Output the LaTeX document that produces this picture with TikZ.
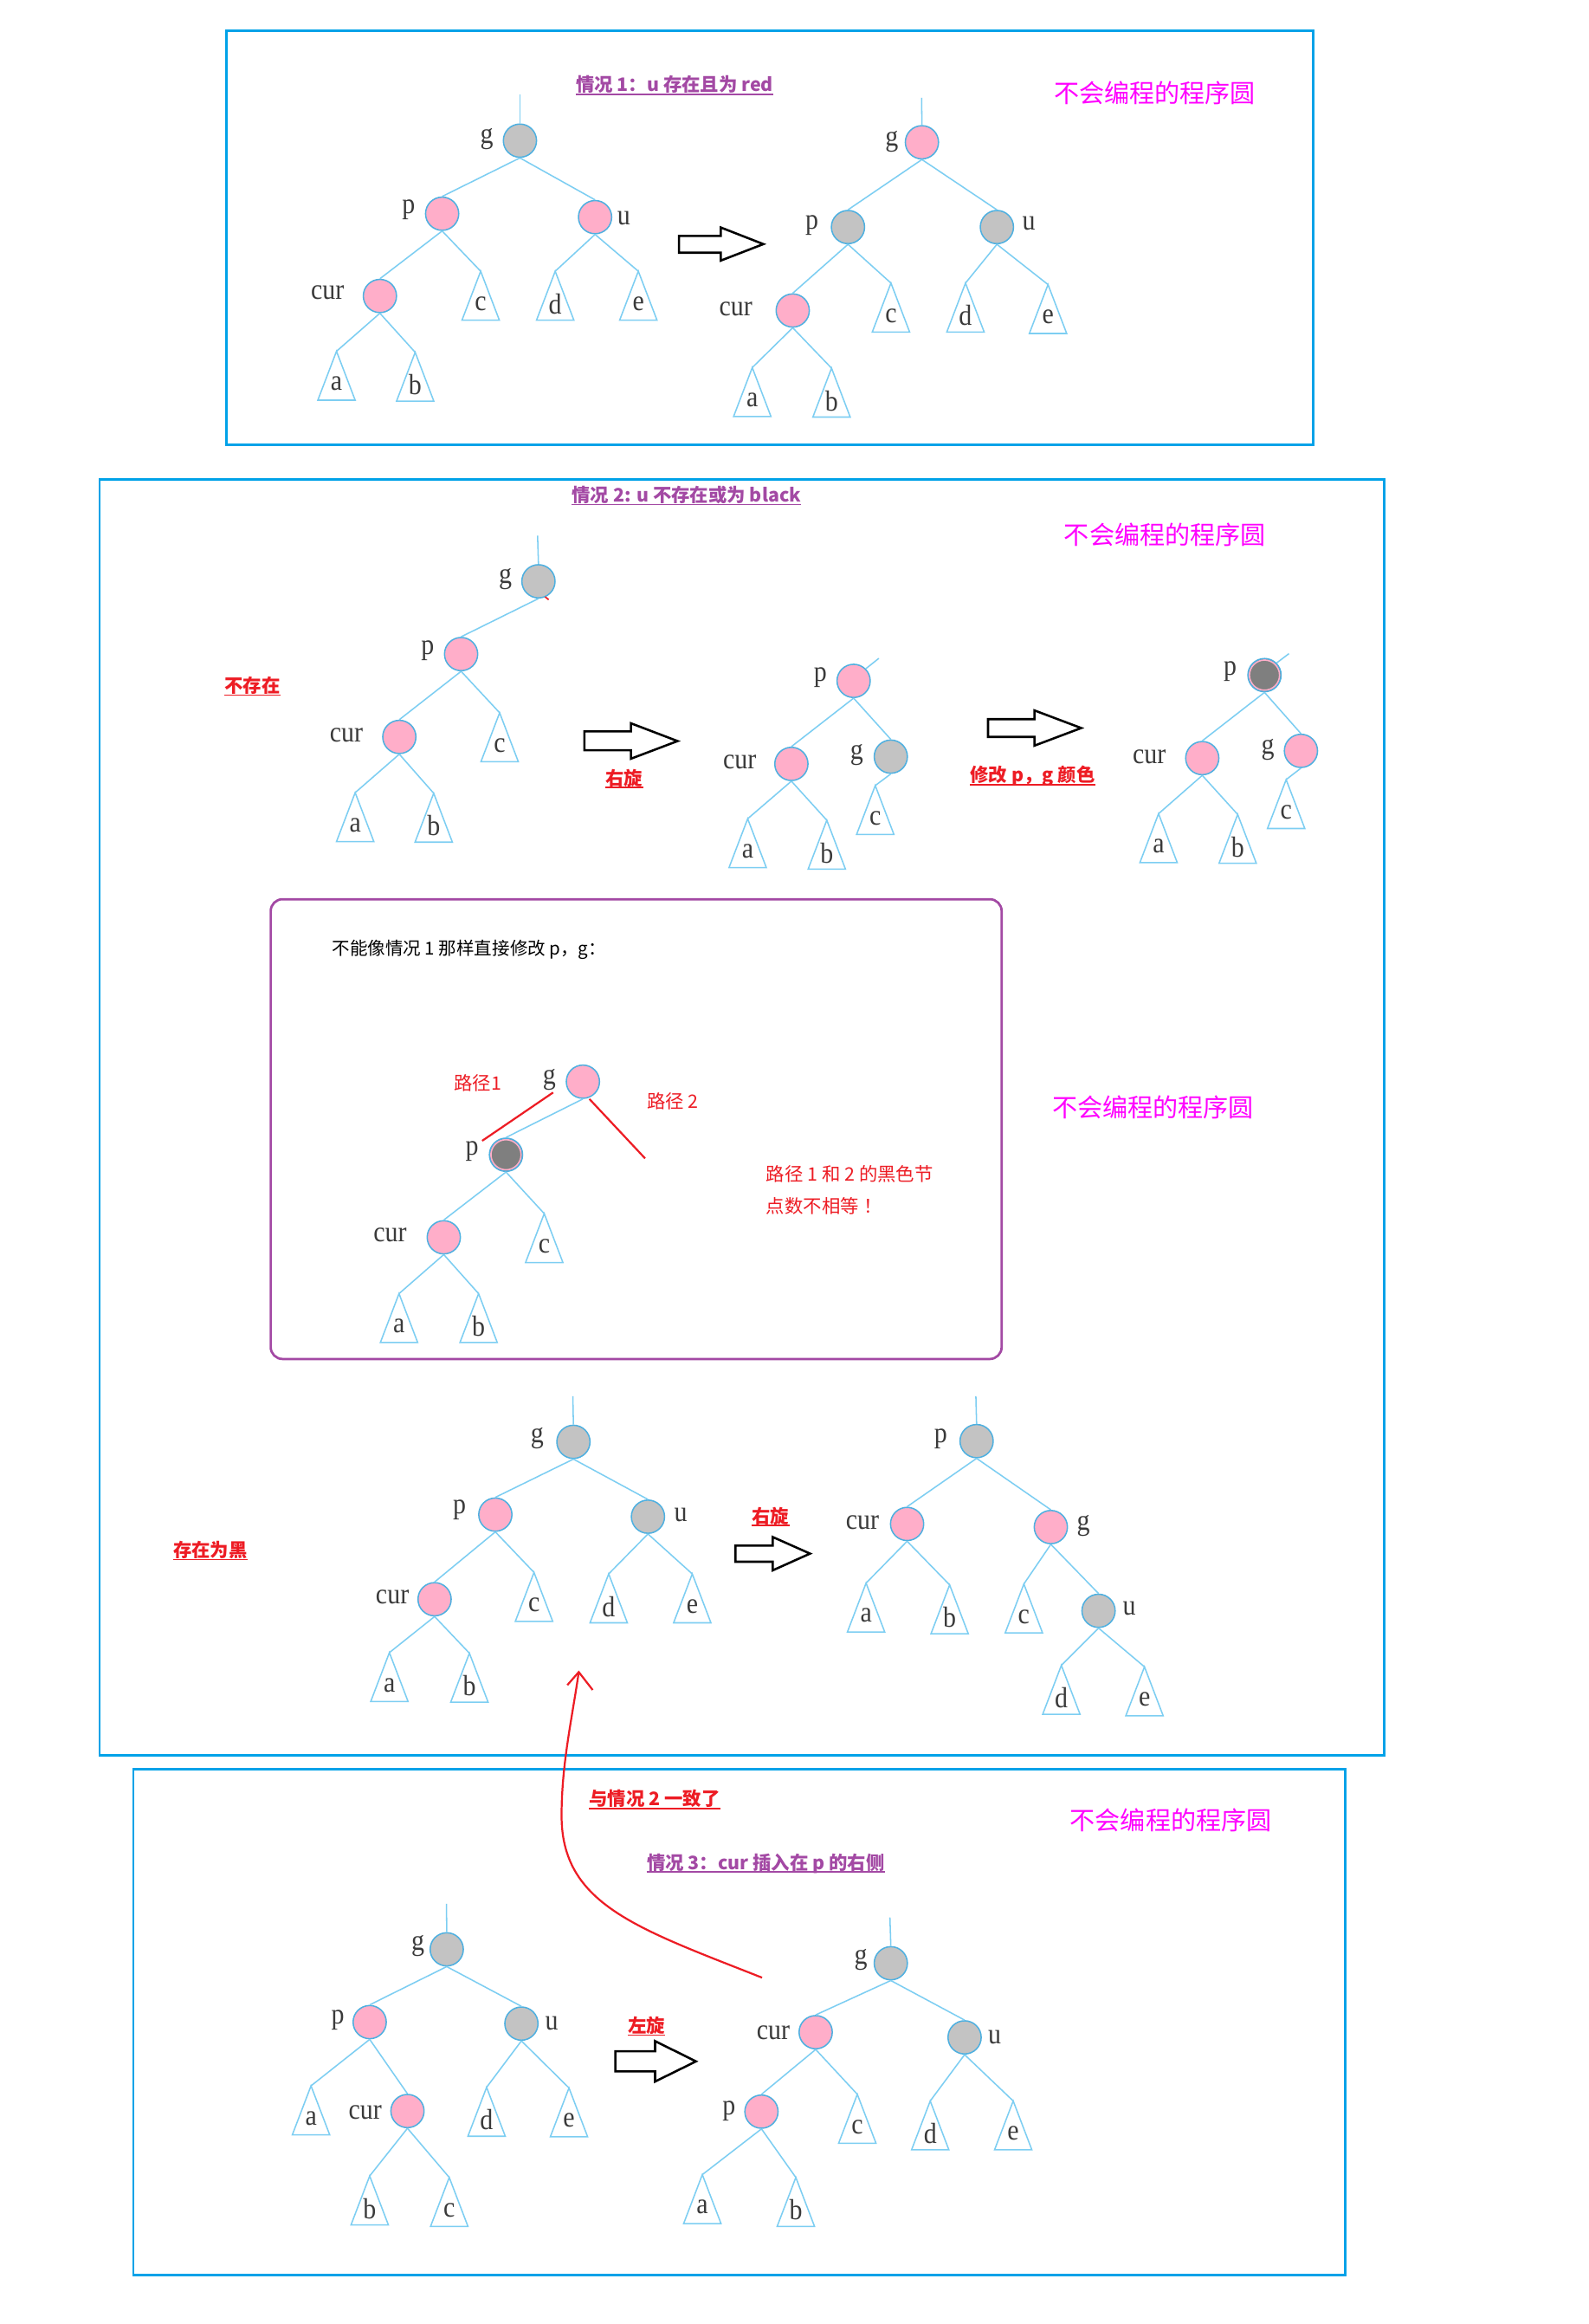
\documentclass[tikz,border=0pt]{standalone}
\usepackage{fontspec}
\usepackage{graphicx}
\setmainfont{Liberation Serif}
\newfontfamily\cjk{Noto Sans CJK SC}
\usetikzlibrary{calc}
\definecolor{boxblue}{HTML}{00A2E8}
\definecolor{boxpurple}{HTML}{A349A4}
\definecolor{nodepink}{HTML}{FFAEC9}
\definecolor{nodegray}{HTML}{C3C3C3}
\definecolor{nodedark}{HTML}{7F7F7F}
\definecolor{nodeborder}{HTML}{4FB0E0}
\definecolor{edgeblue}{HTML}{7DCEF2}
\definecolor{lblgray}{HTML}{3A3A3A}
\definecolor{wmmag}{HTML}{FF00FF}
\definecolor{notered}{HTML}{ED1C24}

\newcommand{\trlab}[1]{\scalebox{1}[1.12]{#1}}
\newcommand{\tnode}[7]{%
  \node[#2] (#1) at (#3,#4) {};
  \node[lbl] (#1-l) at (#5,#6) {\trlab{#7}};
}
\newcommand{\subtri}[4]{%
  \coordinate (#1) at (#2,#3);
  \draw[trishape] (#1) -- ++(-12.6,33) -- ++(25.2,0) -- cycle;
  \node[lbl] (#1-l) at ($(#1)+(0,22)$) {\trlab{#4}};
}
\newcommand{\ulabel}[5]{%
  \node[ultext, text=#2] (#1) at (#3,#4+4.6) {#5};
  \draw[#2, line width=0.9pt] ($(#1.base west)+(0,1.7)$) -- ($(#1.base east)+(0,1.7)$);
}
\newcommand{\blockarrow}[8]{%
  \draw[bigarrow] (#1,#3) -- (#2,#3) -- (#2,#5) -- (#7,#8) -- (#2,#6) -- (#2,#4) -- (#1,#4) -- cycle;
}

\begin{document}
\begin{tikzpicture}[x=1pt,y=-1pt,
  rbnode/.style={circle, minimum size=22.4pt, inner sep=0pt, draw=nodeborder, line width=0.9pt},
  pinknode/.style={rbnode, fill=nodepink},
  graynode/.style={rbnode, fill=nodegray},
  darknode/.style={rbnode, fill=nodedark, path picture={\draw[nodepink, line width=1pt] (path picture bounding box.center) circle (10.2pt);}},
  treeedge/.style={draw=edgeblue, line width=0.9pt},
  trishape/.style={draw=edgeblue, line width=0.9pt, line join=miter},
  lbl/.style={inner sep=0pt, text=lblgray, font=\fontsize{17.5}{17.5}\selectfont},
  panel/.style={draw=boxblue, line width=1.7pt},
  wm/.style={inner sep=0pt, anchor=west, text=wmmag, font=\cjk\fontsize{17}{17}\selectfont},
  ultext/.style={inner sep=0pt, anchor=base west, font=\cjk\bfseries\fontsize{12.5}{12.5}\selectfont},
  bigarrow/.style={draw=black, fill=white, line width=1.5pt, line join=miter},
  redline/.style={draw=notered, line width=1.3pt},
  redtxt/.style={inner sep=0pt, anchor=west, text=notered, font=\cjk\fontsize{12.5}{12.5}\selectfont},
  blktxt/.style={inner sep=0pt, anchor=west, text=black, font=\cjk\fontsize{12}{12}\selectfont},
]
\fill[white] (0,0) rectangle (1072,1568);
\useasboundingbox (0,0) rectangle (1072,1568);

% ---------------- panels ----------------
\draw[panel] (153,20.5) rectangle (886,300);
\draw[panel] (67.2,323.4) rectangle (934,1184.2);
\draw[panel] (90,1193.8) rectangle (907.8,1535);
\draw[boxpurple, line width=1.6pt, rounded corners=8pt] (182.7,606.7) rectangle (676,916.9);

% ---------------- watermarks ----------------
\node[wm] (w1) at (711.2,62.7) {不会编程的程序圆};
\node[wm] (w2) at (718,361) {不会编程的程序圆};
\node[wm] (w3) at (710,747) {不会编程的程序圆};
\node[wm] (w4) at (722,1228) {不会编程的程序圆};

% ---------------- titles / notes ----------------
\ulabel{t1}{boxpurple}{388.5}{57.3}{情况 1：u 存在且为 red}
\ulabel{t2}{boxpurple}{385.8}{334.2}{情况 2: u 不存在或为 black}
\ulabel{t3}{boxpurple}{436.4}{1256.7}{情况 3：cur 插入在 p 的右侧}
\ulabel{r1}{notered}{151.4}{462.8}{不存在}
\ulabel{r2}{notered}{408.6}{525}{右旋}
\ulabel{r3}{notered}{654.6}{523.1}{修改 p，g 颜色}
\ulabel{r4}{notered}{116.8}{1045.9}{存在为黑}
\ulabel{r5}{notered}{507.4}{1022.9}{右旋}
\ulabel{r6}{notered}{397.5}{1213.9}{与情况 2 一致了}
\ulabel{r7}{notered}{423.7}{1366.8}{左旋}

\node[blktxt] (bt) at (224,640.6) {不能像情况 1 那样直接修改 p，g：};
\node[redtxt] (rt1) at (306.2,731) {路径1};
\node[redtxt] (rt2) at (436.4,742.9) {路径 2};
\node[redtxt] (rt3) at (517,792) {路径 1 和 2 的黑色节};
\node[redtxt] (rt4) at (517,814) {点数不相等\hspace{3pt}！};

% ---------------- block arrows ----------------
\blockarrow{458.3}{486.5}{159.2}{170.5}{153.5}{175.8}{515.2}{164.7}
\blockarrow{394.4}{425.8}{493.5}{506.2}{488}{511.9}{457.3}{500}
\blockarrow{666.8}{698.1}{485.2}{497.2}{479.3}{503.1}{729.7}{491.2}
\blockarrow{496.3}{521.5}{1042.8}{1053.7}{1037}{1059.5}{546.7}{1048.2}
\blockarrow{415.3}{442.1}{1384}{1397.6}{1377.1}{1404.4}{469.7}{1390.8}

% ================= Tree A (case 1, before) =================
\tnode{Ag}{graynode}{350.9}{94.9}{328.5}{93.6}{g}
\tnode{Ap}{pinknode}{298.4}{144.2}{275.7}{141.3}{p}
\tnode{Au}{pinknode}{401.6}{146.5}{421}{147}{u}
\tnode{Acur}{pinknode}{256.4}{199.7}{221}{197.6}{cur}
\subtri{Ac}{324.4}{183}{c}
\subtri{Ad}{374.7}{183}{d}
\subtri{Ae}{430.8}{183}{e}
\subtri{Aa}{227.1}{237}{a}
\subtri{Ab}{280.2}{237.7}{b}
\coordinate (Ar) at (350.9,63.8);
\draw[treeedge] (Ag.north) -- (Ar);
\foreach \s/\t in {Ag/Ap, Ag/Au, Ap/Acur} \draw[treeedge] (\s.south) -- (\t.north);
\foreach \s/\t in {Ap/Ac, Au/Ad, Au/Ae, Acur/Aa, Acur/Ab} \draw[treeedge] (\s.south) -- (\t);

% ================= Tree B (case 1, after) =================
\tnode{Bg}{pinknode}{622.2}{96}{601.8}{95.5}{g}
\tnode{Bp}{graynode}{572.3}{153.2}{548}{152}{p}
\tnode{Bu}{graynode}{672.8}{153.2}{694.4}{150.6}{u}
\tnode{Bcur}{pinknode}{535}{209.5}{496.6}{208.5}{cur}
\subtri{Bc}{601.3}{191}{c}
\subtri{Bd}{651.6}{191}{d}
\subtri{Be}{707.3}{192}{e}
\subtri{Ba}{507.7}{248}{a}
\subtri{Bb}{561.2}{248.4}{b}
\coordinate (Br) at (622,66);
\draw[treeedge] (Bg.north) -- (Br);
\foreach \s/\t in {Bg/Bp, Bg/Bu, Bp/Bcur} \draw[treeedge] (\s.south) -- (\t.north);
\foreach \s/\t in {Bp/Bc, Bu/Bd, Bu/Be, Bcur/Ba, Bcur/Bb} \draw[treeedge] (\s.south) -- (\t);

% ================= Tree C (u absent, before) =================
\tnode{Cg}{graynode}{363.4}{392.2}{341}{390.6}{g}
\tnode{Cp}{pinknode}{311.2}{441.3}{288.6}{438.8}{p}
\tnode{Ccur}{pinknode}{269.5}{497.2}{233.7}{495.9}{cur}
\subtri{Cc}{337.2}{480.9}{c}
\subtri{Ca}{239.7}{534.8}{a}
\subtri{Cb}{292.7}{535.2}{b}
\coordinate (Cr) at (362.8,361.4);
\draw[treeedge] (Cg.north) -- (Cr);
\foreach \s/\t in {Cg/Cp, Cp/Ccur} \draw[treeedge] (\s.south) -- (\t.north);
\foreach \s/\t in {Cp/Cc, Ccur/Ca, Ccur/Cb} \draw[treeedge] (\s.south) -- (\t);
\coordinate (Cm1) at (367.9,402.7);
\coordinate (Cm2) at (370.3,404.6);
\draw[notered, line width=1pt] (Cm1) -- (Cm2);

% ================= Tree D (after right rotation) =================
\tnode{Dp}{pinknode}{576.1}{459.4}{553.7}{456.9}{p}
\tnode{Dcur}{pinknode}{534.1}{515.4}{499.2}{514}{cur}
\tnode{Dg}{graynode}{601.2}{510.5}{578.2}{509.5}{g}
\subtri{Dc}{590.7}{530}{c}
\subtri{Da}{504.6}{552.4}{a}
\subtri{Db}{558}{553.4}{b}
\coordinate (Ds) at (593.1,444.2);
\draw[treeedge] (Dp.north east) -- (Ds);
\foreach \s/\t in {Dp/Dcur, Dp/Dg} \draw[treeedge] (\s.south) -- (\t.north);
\foreach \s/\t in {Dg/Dc, Dcur/Da, Dcur/Db} \draw[treeedge] (\s.south) -- (\t);

% ================= Tree E (after recolour) =================
\tnode{Ep}{darknode}{853.4}{455.5}{830.2}{453}{p}
\tnode{Ecur}{pinknode}{811.4}{511.5}{775.7}{510.5}{cur}
\tnode{Eg}{pinknode}{878}{506.6}{855.6}{505.6}{g}
\subtri{Ec}{868}{526}{c}
\subtri{Ea}{781.9}{549}{a}
\subtri{Eb}{835.3}{549.5}{b}
\coordinate (Es) at (869.9,441);
\draw[treeedge] (Ep.north east) -- (Es);
\foreach \s/\t in {Ep/Ecur, Ep/Eg} \draw[treeedge] (\s.south) -- (\t.north);
\foreach \s/\t in {Eg/Ec, Ecur/Ea, Ecur/Eb} \draw[treeedge] (\s.south) -- (\t);

% ================= Tree F (inside purple box) =================
\tnode{Fg}{pinknode}{393.4}{729.8}{370.7}{728.3}{g}
\tnode{Fp}{darknode}{341.5}{779.1}{318.6}{777}{p}
\tnode{Fcur}{pinknode}{299.5}{834.8}{263.3}{833.3}{cur}
\subtri{Fc}{367.3}{818.8}{c}
\subtri{Fa}{269.3}{872.8}{a}
\subtri{Fb}{323}{872.8}{b}
\foreach \s/\t in {Fg/Fp, Fp/Fcur} \draw[treeedge] (\s.south) -- (\t.north);
\foreach \s/\t in {Fp/Fc, Fcur/Fa, Fcur/Fb} \draw[treeedge] (\s.south) -- (\t);
\coordinate (F1a) at (373.3,737.1);
\coordinate (F1b) at (325.4,769.7);
\coordinate (F2a) at (397.8,741.5);
\coordinate (F2b) at (435.4,781.6);
\draw[redline] (F1a) -- (F1b);
\draw[redline] (F2a) -- (F2b);

% ================= Tree G (u black, before) =================
\tnode{Gg}{graynode}{387}{972.8}{362.5}{970.3}{g}
\tnode{Gp}{pinknode}{334.3}{1021.9}{310.1}{1019}{p}
\tnode{Gu}{graynode}{437.3}{1023.3}{459.4}{1022}{u}
\tnode{Gcur}{pinknode}{293.3}{1079}{264.8}{1077.5}{cur}
\subtri{Gc}{360.4}{1060.9}{c}
\subtri{Gd}{410.8}{1061.9}{d}
\subtri{Ge}{467.2}{1061.9}{e}
\subtri{Ga}{262.8}{1115}{a}
\subtri{Gb}{316.8}{1115.4}{b}
\coordinate (Gr) at (386.6,942);
\draw[treeedge] (Gg.north) -- (Gr);
\foreach \s/\t in {Gg/Gp, Gg/Gu, Gp/Gcur} \draw[treeedge] (\s.south) -- (\t.north);
\foreach \s/\t in {Gp/Gc, Gu/Gd, Gu/Ge, Gcur/Ga, Gcur/Gb} \draw[treeedge] (\s.south) -- (\t);

% ================= Tree H (u black, after) =================
\tnode{Hp}{graynode}{659.1}{972.3}{634.9}{970.9}{p}
\tnode{Hcur}{pinknode}{612.2}{1028.2}{582.1}{1027.4}{cur}
\tnode{Hg}{pinknode}{709.2}{1030.3}{731.2}{1029.7}{g}
\tnode{Hu}{graynode}{741.4}{1086.8}{762.2}{1085.3}{u}
\subtri{Ha}{584.5}{1068.1}{a}
\subtri{Hb}{640.9}{1069.3}{b}
\subtri{Hc}{691}{1068.7}{c}
\subtri{Hd}{716.3}{1123.6}{d}
\subtri{He}{772.4}{1124.6}{e}
\coordinate (Hr) at (658.6,942);
\draw[treeedge] (Hp.north) -- (Hr);
\foreach \s/\t in {Hp/Hcur, Hp/Hg, Hg/Hu} \draw[treeedge] (\s.south) -- (\t.north);
\foreach \s/\t in {Hcur/Ha, Hcur/Hb, Hg/Hc, Hu/Hd, Hu/He} \draw[treeedge] (\s.south) -- (\t);

% ================= Tree I (case 3, before) =================
\tnode{Ig}{graynode}{301.5}{1315.2}{282}{1312.8}{g}
\tnode{Ip}{pinknode}{249.5}{1364.3}{228}{1363}{p}
\tnode{Iu}{graynode}{351.9}{1365.3}{372.3}{1365.3}{u}
\tnode{Icur}{pinknode}{275}{1424.3}{246.5}{1425.3}{cur}
\subtri{Ia}{209.9}{1407.3}{a}
\subtri{Id}{328.4}{1408.3}{d}
\subtri{Ie}{384}{1408.7}{e}
\subtri{Ib}{249.5}{1468.1}{b}
\subtri{Ic}{303.2}{1469.1}{c}
\coordinate (Ir) at (301.3,1284.4);
\draw[treeedge] (Ig.north) -- (Ir);
\foreach \s/\t in {Ig/Ip, Ig/Iu, Ip/Icur} \draw[treeedge] (\s.south) -- (\t.north);
\foreach \s/\t in {Ip/Ia, Iu/Id, Iu/Ie, Icur/Ib, Icur/Ic} \draw[treeedge] (\s.south) -- (\t);

% ================= Tree J (case 3, after left rotation) =================
\tnode{Jg}{graynode}{601.2}{1324.6}{581}{1322}{g}
\tnode{Jcur}{pinknode}{550.5}{1371.1}{521.9}{1371.7}{cur}
\tnode{Ju}{graynode}{651}{1374.6}{671.3}{1374.6}{u}
\tnode{Jp}{pinknode}{513.9}{1424.7}{492}{1424.3}{p}
\subtri{Jc}{578.6}{1413}{c}
\subtri{Jd}{627.8}{1417.5}{d}
\subtri{Je}{683.8}{1417.5}{e}
\subtri{Ja}{474}{1467.2}{a}
\subtri{Jb}{537.1}{1469.1}{b}
\coordinate (Jr) at (600.6,1293.7);
\draw[treeedge] (Jg.north) -- (Jr);
\foreach \s/\t in {Jg/Jcur, Jg/Ju, Jcur/Jp} \draw[treeedge] (\s.south) -- (\t.north);
\foreach \s/\t in {Jcur/Jc, Ju/Jd, Ju/Je, Jp/Ja, Jp/Jb} \draw[treeedge] (\s.south) -- (\t);

% ================= red curved arrow =================
\coordinate (RA1) at (514.3,1334.3);
\coordinate (RA2) at (379,1225);
\coordinate (RA3) at (390.6,1128.1);
\coordinate (RAl) at (382.9,1136.9);
\coordinate (RAr) at (400,1140.2);
\draw[redline] (RA1) .. controls (430,1301) and (379,1285) .. (RA2)
  .. controls (379,1190) and (386,1160) .. (RA3);
\draw[redline, line join=miter] (RAl) -- (RA3) -- (RAr);
\end{tikzpicture}
\end{document}
